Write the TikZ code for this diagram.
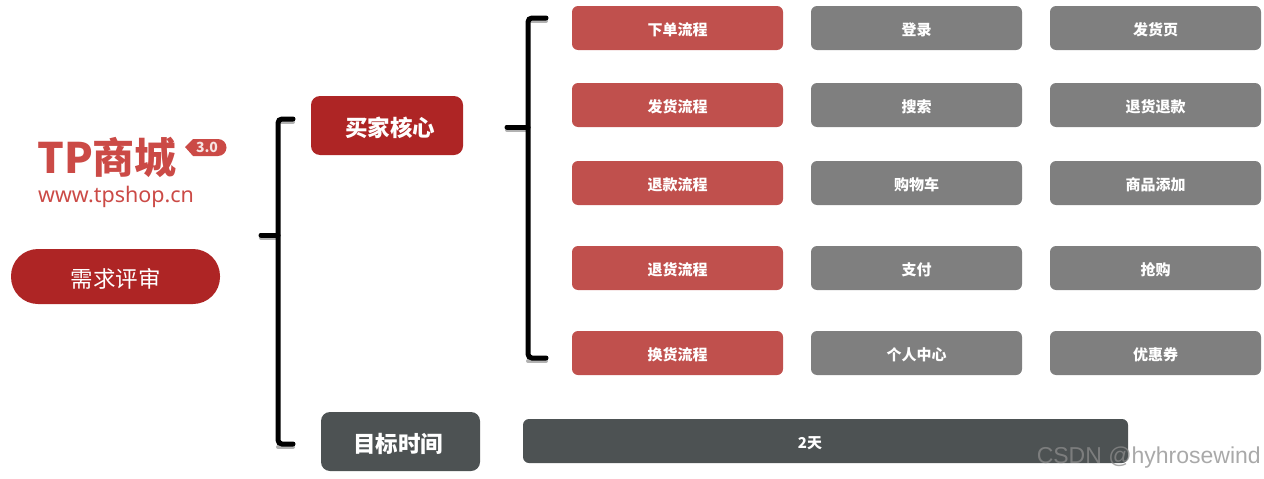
\documentclass[tikz,border=0pt]{standalone}
\usepackage{fontspec}
\setmainfont{Noto Sans CJK SC}
\newfontfamily\logolatin{Noto Sans}
\newfontfamily\markfont{Liberation Sans}
\newcommand{\px}[1]{\fontsize{#1}{#1}\selectfont}
\definecolor{boxred}{HTML}{C0504D}
\definecolor{boxgray}{HTML}{7F7F7F}
\definecolor{boxdark}{HTML}{4D5253}
\definecolor{corered}{HTML}{AE2525}
\definecolor{logored}{HTML}{CB4A46}
\tikzset{
	item/.style={rounded corners=6pt,minimum width=211pt,minimum height=44pt,inner sep=0pt,text=white,text height=15pt,text depth=0pt,font=\px{15}\bfseries},
	reditem/.style={item,fill=boxred},
	grayitem/.style={item,fill=boxgray},
	headbox/.style={rounded corners=9pt,inner sep=0pt,text=white,text height=21pt,text depth=0pt,font=\px{22.5}\bfseries},
	bracket/.style={line width=5pt,rounded corners=4pt,line cap=round},
	bracketshadow/.style={line width=4pt,line cap=round,black,opacity=0.3}
}
\begin{document}
\begin{tikzpicture}[x=1pt,y=-1pt]
	\useasboundingbox (0,0) rectangle (1264,479);
	% logo
	\node[anchor=west,inner sep=0pt,text=logored,font=\px{42}\bfseries] (logo) at (37,157) {TP商城};
	\node[anchor=west,inner sep=0pt,text=logored,font=\logolatin\px{21.5}] (site) at (38,197) {www.tpshop.cn};
	\fill[logored] (185,147) -- (193,139) -- (218,139) arc (90:-90:8.5pt) -- (193,156) -- cycle;
	\node[inner sep=0pt,text=white!85!logored,font=\px{14}\bfseries] (version) at (207,147) {3.0};
	% left side
	\node[fill=corered,rounded corners=27pt,minimum width=209pt,minimum height=55pt,inner sep=0pt,text=white,text height=21pt,text depth=0pt,font=\px{22.5}] (review) at (115.5,276.5) {需求评审};
	\node[headbox,fill=corered,minimum width=152pt,minimum height=59pt] (core) at (387,125.5) {\hspace{6pt}买家核心};
	\node[headbox,fill=boxdark,minimum width=159pt,minimum height=59pt] (goal) at (400.5,441.5) {目标时间\kern5pt};
	% brackets
	\coordinate (outertop) at (293,119);
	\coordinate (outerbend) at (278,119);
	\coordinate (outerlow) at (278,444);
	\coordinate (outerend) at (293,444);
	\coordinate (outermid) at (278,235);
	\coordinate (outerstub) at (261,235);
	\coordinate (innertop) at (546,18);
	\coordinate (innerbend) at (528,18);
	\coordinate (innerlow) at (528,358);
	\coordinate (innerend) at (546,358);
	\coordinate (innermid) at (528,127);
	\coordinate (innerstub) at (507,127);
	\draw[bracketshadow] ([yshift=-3pt]outerstub) -- ([yshift=-3pt]outermid);
	\draw[bracketshadow] ([yshift=-3pt]outerlow) -- ([yshift=-3pt]outerend);
	\draw[bracketshadow] ([yshift=-3pt]outertop) -- ([yshift=-3pt]outerbend);
	\draw[bracketshadow] ([yshift=-3pt]innerstub) -- ([yshift=-3pt]innermid);
	\draw[bracketshadow] ([yshift=-3pt]innerlow) -- ([yshift=-3pt]innerend);
	\draw[bracketshadow] ([yshift=-3pt]innertop) -- ([yshift=-3pt]innerbend);
	\draw[bracket] (outertop) -- (outerbend) -- (outerlow) -- (outerend);
	\draw[bracket,rounded corners=0pt] (outerstub) -- (outermid);
	\draw[bracket] (innertop) -- (innerbend) -- (innerlow) -- (innerend);
	\draw[bracket,rounded corners=0pt] (innerstub) -- (innermid);
	% first column
	\node[reditem] (order) at (677.5,28) {下单流程};
	\node[reditem] (ship) at (677.5,105) {发货流程};
	\node[reditem] (refund) at (677.5,183) {退款流程};
	\node[reditem] (goback) at (677.5,268) {退货流程};
	\node[reditem] (swap) at (677.5,353) {换货流程};
	% second column
	\node[grayitem] (login) at (916.5,28) {登录};
	\node[grayitem] (search) at (916.5,105) {搜索};
	\node[grayitem] (cart) at (916.5,183) {购物车};
	\node[grayitem] (pay) at (916.5,268) {支付};
	\node[grayitem] (center) at (916.5,353) {个人中心};
	% third column
	\node[grayitem] (shippage) at (1155.5,28) {发货页};
	\node[grayitem] (returns) at (1155.5,105) {退货退款};
	\node[grayitem] (addgoods) at (1155.5,183) {商品添加};
	\node[grayitem] (flash) at (1155.5,268) {抢购};
	\node[grayitem] (coupon) at (1155.5,353) {优惠券};
	% bottom bar
	\node[item,fill=boxdark,minimum width=605pt] (days) at (825.5,441) {2天\kern31pt};
	\node[anchor=east,inner sep=0pt,text=black!45,opacity=0.75,font=\markfont\px{23}] (mark) at (1261,458) {CSDN @hyhrosewind};
\end{tikzpicture}
\end{document}
